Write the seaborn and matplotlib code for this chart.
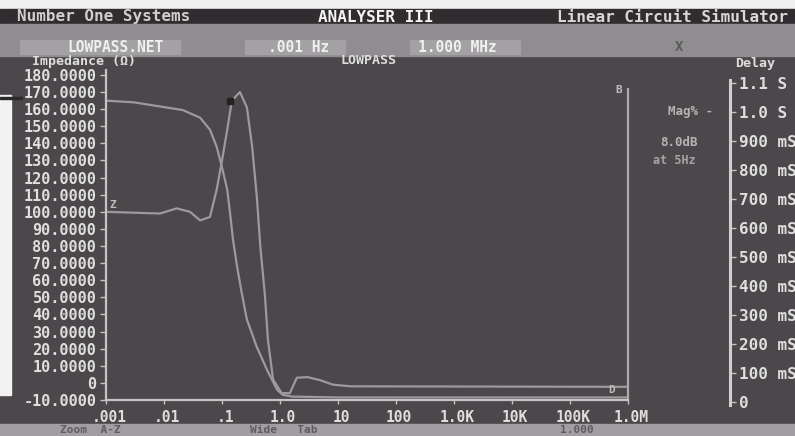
import numpy as np
import pandas as pd
import seaborn as sns

import matplotlib
matplotlib.use("Agg")
import matplotlib.pyplot as plt
import matplotlib.transforms as mtrans
from matplotlib.patches import Rectangle

# --------------------------------------------------------------------------
# Data
# --------------------------------------------------------------------------
FREQ_A = [0.001, 0.003, 0.021, 0.042, 0.062, 0.081, 0.10, 0.123, 0.138, 0.155,
          0.182, 0.219, 0.269, 0.398, 0.60, 0.89, 1.12, 1.62, 10, 1e6]
IMP_A = [165, 164, 159.5, 155, 148, 138, 126, 113, 99, 83.5,
         68, 52.5, 37, 21, 7.5, -4, -7, -8, -8.5, -8.5]

FREQ_B = [0.001, 0.0085, 0.0166, 0.028, 0.042, 0.062, 0.081, 0.10, 0.123, 0.148,
          0.204, 0.269, 0.331, 0.398, 0.457, 0.55, 0.62, 0.76, 1.07, 1.48,
          1.95, 2.95, 4.9, 8.1, 16.2, 1e6]
IMP_B = [100, 99, 102, 100, 95, 97, 113, 130, 148, 165,
         170, 161, 138, 109, 80, 51, 25, 2, -6, -6,
         3, 3.4, 1.6, -1, -2, -2.3]

X_TICKS = [1e-3, 1e-2, 1e-1, 1, 10, 100, 1e3, 1e4, 1e5, 1e6]
X_LABELS = [".001", ".01", ".1", "1.0", "10", "100", "1.0K", "10K", "100K", "1.0M"]

Y_TICKS = list(range(-10, 190, 10))
Y_LABELS = ["0" if v == 0 else f"{v:.4f}" for v in Y_TICKS]

DELAY_TICKS = [0, 0.1, 0.2, 0.3, 0.4, 0.5, 0.6, 0.7, 0.8, 0.9, 1.0, 1.1]
DELAY_LABELS = ["0", "100 mS", "200 mS", "300 mS", "400 mS", "500 mS",
                "600 mS", "700 mS", "800 mS", "900 mS", "1.0 S", "1.1 S"]

# --------------------------------------------------------------------------
# Style
# --------------------------------------------------------------------------
BG = "#4b474b"
TXT = "#dedede"
CURVE = "#9c9a9c"
AXL = "#c4c4c4"
FS = 11

sns.set_style("dark", rc={"axes.facecolor": BG, "figure.facecolor": BG,
                          "axes.edgecolor": AXL, "grid.color": BG})
plt.rcParams["font.family"] = ["DejaVu Sans Mono", "DejaVu Sans"]
plt.rcParams["font.weight"] = "bold"

W, H = 795, 436
fig = plt.figure(figsize=(W / 100, H / 100), dpi=100)


def fx(px):
    return px / W


def fy(py):
    return 1 - py / H


def band(x0, y0, x1, y1, color):
    fig.patches.append(Rectangle((fx(x0), fy(y1)), fx(x1 - x0), (y1 - y0) / H,
                                 transform=fig.transFigure, color=color, zorder=0))


# screen chrome
band(0, 0, W, 9, "#f0f0f0")
band(0, 9, W, 24, "#302c2f")
band(0, 24, W, 56, "#8f8d8f")
band(20, 40, 180, 54, "#a3a1a3")
band(245, 40, 345, 54, "#a3a1a3")
band(410, 40, 520, 54, "#a3a1a3")
band(0, 424, W, H, "#a09ea0")
band(0, 95, 11, 395, "#f2f2f2")
band(0, 97, 22, 99, "#2a2a2a")

fig.text(fx(17), fy(17), "Number One Systems", color="#cfcfcf", fontsize=11.5, va="center")
fig.text(fx(318), fy(17), "ANALYSER III", color="#f4f4f4", fontsize=11.5, va="center")
fig.text(fx(557), fy(17), "Linear Circuit Simulator", color="#d8d8d8", fontsize=11.5, va="center")
fig.text(fx(67), fy(47), "LOWPASS.NET", color="#f0f0f0", fontsize=10.5, va="center")
fig.text(fx(268), fy(47), ".001 Hz", color="#f0f0f0", fontsize=10.5, va="center")
fig.text(fx(418), fy(47), "1.000 MHz", color="#f0f0f0", fontsize=10.5, va="center")
fig.text(fx(675), fy(47), "X", color="#5a5a5a", fontsize=10, va="center")
fig.text(fx(60), fy(430), "Zoom  A-Z", color="#5e5c5e", fontsize=8, va="center")
fig.text(fx(250), fy(430), "Wide   Tab", color="#5e5c5e", fontsize=8, va="center")
fig.text(fx(560), fy(430), "1.000", color="#5e5c5e", fontsize=8, va="center")

fig.text(fx(32), fy(61), "Impedance (\u03a9)", color=TXT, fontsize=9.5, va="center")
fig.text(fx(368), fy(61), "LOWPASS", color=TXT, fontsize=9.5, va="center", ha="center")
fig.text(fx(735), fy(64), "Delay", color=TXT, fontsize=9.5, va="center")
fig.text(fx(668), fy(112), "Mag% -", color="#b4b4b4", fontsize=9, va="center")
fig.text(fx(660), fy(143), "8.0dB", color="#b4b4b4", fontsize=9, va="center")
fig.text(fx(653), fy(160), "at 5Hz", color="#a4a4a4", fontsize=8.5, va="center")

# --------------------------------------------------------------------------
# Impedance plot
# --------------------------------------------------------------------------
ax = fig.add_axes([fx(106), 36 / H, fx(628 - 106), 330 / H])
ax.set_facecolor(BG)

df_a = pd.DataFrame({"freq": FREQ_A, "imp": IMP_A})
df_b = pd.DataFrame({"freq": FREQ_B, "imp": IMP_B})
sns.lineplot(df_a, x="freq", y="imp", sort=False, estimator=None,
             color=CURVE, lw=1.6, ax=ax)
sns.lineplot(df_b, x="freq", y="imp", sort=False, estimator=None,
             color=CURVE, lw=1.6, ax=ax)

ax.set_xscale("log")
ax.set_xlim(1e-3, 1e6)
ax.set_ylim(-10, 182.9)
ax.grid(False)
ax.set_xlabel("")
ax.set_ylabel("")

ax.set_xticks(X_TICKS)
ax.set_xticklabels(X_LABELS)
ax.xaxis.set_minor_locator(matplotlib.ticker.NullLocator())
ax.set_yticks(Y_TICKS)
ax.set_yticklabels(Y_LABELS)
ax.tick_params(axis="y", colors=AXL, labelcolor=TXT, labelsize=FS,
               length=4, width=1, pad=3, left=True, direction="out")
ax.tick_params(axis="x", colors=AXL, labelcolor=TXT, labelsize=10.5,
               length=3, width=1, pad=4, bottom=True, direction="out")
shift = mtrans.ScaledTranslation(3 / 100, 0, fig.dpi_scale_trans)
for lab in ax.get_xticklabels():
    lab.set_transform(lab.get_transform() + shift)

for side in ("left", "bottom", "right"):
    ax.spines[side].set_visible(True)
    ax.spines[side].set_color(AXL)
    ax.spines[side].set_linewidth(1.6)
ax.spines["top"].set_visible(False)
ax.spines["right"].set_bounds(-10, 172)
ax.spines["right"].set_color("#aaaaaa")

# cursor markers
ax.text(0.00115, 101, "Z", color="#bcbcbc", fontsize=8, va="bottom")
ax.text(8e5, 168, "B", color="#bcbcbc", fontsize=8, va="bottom", ha="right")
ax.text(4.6e5, -7, "D", color="#bcbcbc", fontsize=8, va="bottom")
ax.plot([0.137], [165], marker="s", ms=4, color="#222222", ls="none")

# --------------------------------------------------------------------------
# Delay axis
# --------------------------------------------------------------------------
ax2 = fig.add_axes([fx(730), 31 / H, 0.0005, 325 / H])
ax2.set_facecolor(BG)
ax2.patch.set_alpha(0)
ax2.set_ylim(-0.0103, 1.1103)
ax2.set_xticks([])
ax2.yaxis.tick_right()
ax2.set_yticks(DELAY_TICKS)
ax2.set_yticklabels(DELAY_LABELS)
ax2.tick_params(axis="y", colors=AXL, labelcolor=TXT, labelsize=11.5,
                length=4, width=1, pad=2, right=True, direction="out")
for side in ("left", "top", "bottom"):
    ax2.spines[side].set_visible(False)
ax2.spines["right"].set_visible(True)
ax2.spines["right"].set_color("#d0d0d0")
ax2.spines["right"].set_linewidth(2.2)
ax2.grid(False)

fig.savefig("out.png", dpi=100, facecolor=BG)
